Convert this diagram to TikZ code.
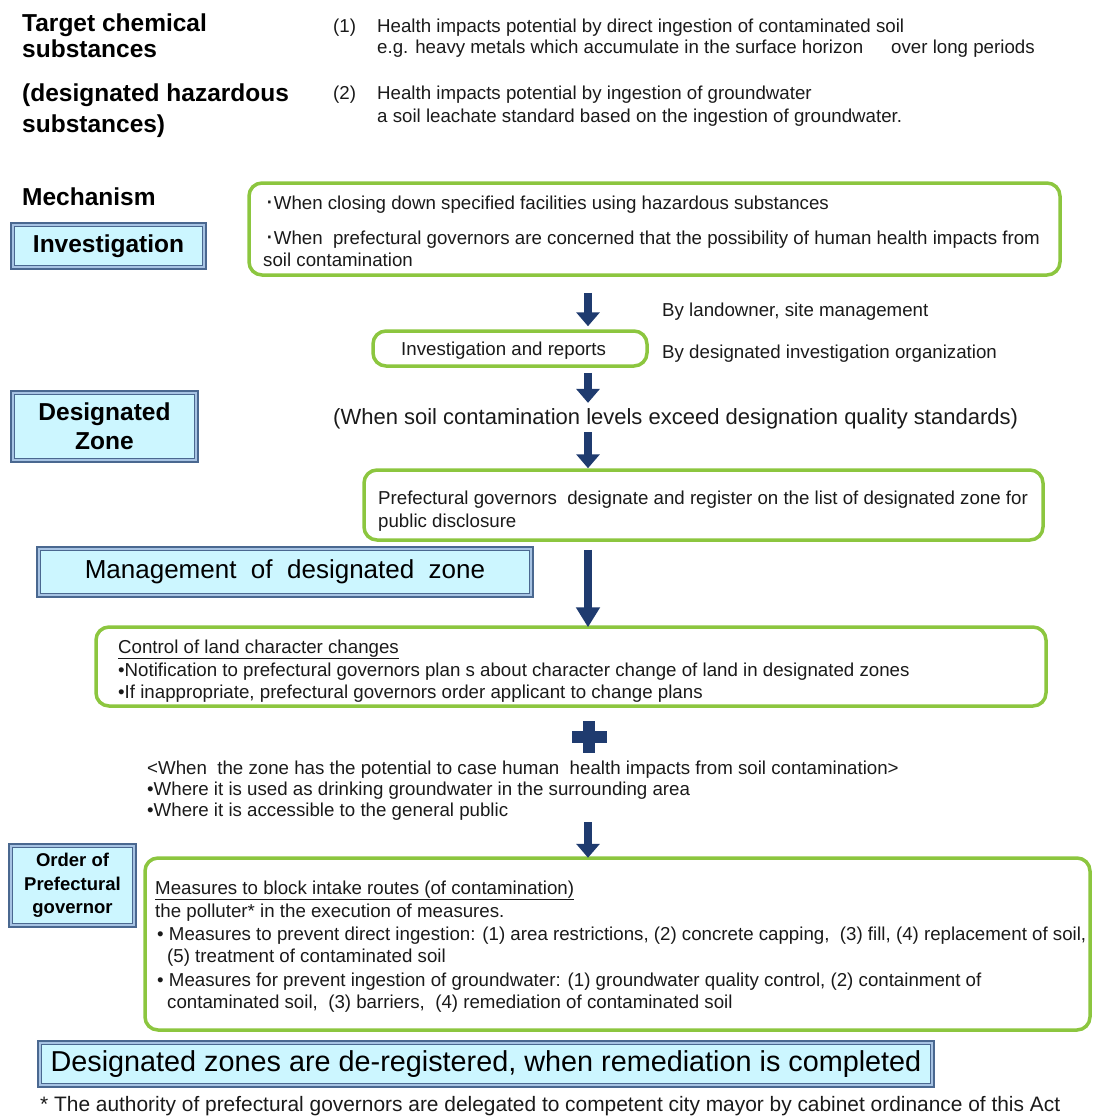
\documentclass[tikz,border=0pt]{standalone}
\usepackage{fontspec}
\setmainfont{Liberation Sans}
\usetikzlibrary{arrows.meta,calc}

\definecolor{arrowblue}{HTML}{1F3B6F}
\definecolor{boxgreen}{HTML}{8CC63F}
\definecolor{boxfill}{HTML}{CCF6FF}
\definecolor{boxedge}{HTML}{4A6890}
\definecolor{boxmid}{HTML}{A7C3E3}
\definecolor{ink}{HTML}{1A1A1A}

\newcommand\fbody{\fontsize{18.7pt}{22pt}\selectfont}
\newcommand\fhead{\fontsize{24.5pt}{29pt}\selectfont\bfseries}
\newcommand\bigdot{{\fontsize{26pt}{22pt}\selectfont ·}}

\tikzset{
  tx/.style={anchor=base west, inner sep=0pt, font=\fbody, text=ink},
  hd/.style={anchor=base west, inner sep=0pt, font=\fhead, text=black},
  gbox/.style={draw=boxgreen, line width=3.5pt, rounded corners=13pt, fill=white, inner sep=0pt},
  bbox/.style={draw=boxedge, line width=1.4pt, double=boxmid, double distance=2.4pt,
               fill=boxfill, inner sep=0pt, text=black, align=center},
  arr/.style={draw=arrowblue, line width=8pt, -{Triangle[width=23pt,length=14pt]}},
  longarr/.style={draw=arrowblue, line width=8pt, -{Triangle[width=23pt,length=20pt]}},
}

\begin{document}
\begin{tikzpicture}[x=1pt,y=-1pt]
\useasboundingbox (0,0) rectangle (1093,1117);

% ---- heading: target substances ----
\node[hd] (h1) at (22,31) {Target chemical};
\node[hd] (h2) at (22,57) {substances};
\node[hd] (h3) at (22,101) {(designated hazardous};
\node[hd] (h4) at (22,132) {substances)};

\node[tx] (n1) at (333,32) {(1)};
\node[tx] (l1a) at (377,32) {Health impacts potential by direct ingestion of contaminated soil};
\node[tx] (l1b) at (377,53) {e.g. heavy metals which accumulate in the surface horizon\hspace*{28pt}over long periods};
\node[tx] (n2) at (333,99) {(2)};
\node[tx] (l2a) at (377,99) {Health impacts potential by ingestion of groundwater};
\node[tx] (l2b) at (377,122) {a soil leachate standard based on the ingestion of groundwater.};

\node[hd] (mech) at (22,205) {Mechanism};

% ---- investigation ----
\node[bbox, minimum width=191.5pt, minimum height=42.5pt, font=\fhead] (inv) at (108.5,246) {Investigation};

\node[gbox, minimum width=811pt, minimum height=92pt] (g1) at (654.5,229) {};
\node[tx] (g1a) at (265,209) {\bigdot When closing down specified facilities using hazardous substances};
\node[tx] (g1b) at (265,244) {\bigdot When~ prefectural governors are concerned that the possibility of human health impacts from};
\node[tx] (g1c) at (263,266) {soil contamination};

\node[gbox, minimum width=274pt, minimum height=35pt] (g2) at (510,348.5) {};
\node[tx] (g2a) at (401,355) {Investigation and reports};

\node[tx] (by1) at (662,316) {By landowner, site management};
\node[tx] (by2) at (662,358) {By designated investigation organization};

% ---- designated zone ----
\node[bbox, minimum width=183.5pt, minimum height=67.5pt, font=\fhead] (dz) at (104.5,426.5) {Designated\\Zone};

\node[anchor=base west, inner sep=0pt, font=\fontsize{22pt}{26pt}\selectfont, text=ink] (cond) at (333,424)
  {(When soil contamination levels exceed designation quality standards)};

\node[gbox, minimum width=679pt, minimum height=70pt] (g3) at (703.5,505) {};
\node[tx] (g3a) at (378,504) {Prefectural governors~ designate and register on the list of designated zone for};
\node[tx] (g3b) at (378,527) {public disclosure};

% ---- management ----
\node[bbox, minimum width=492.5pt, minimum height=46.5pt, font=\fontsize{26pt}{30pt}\selectfont] (mg) at (285,572)
  {Management~ of~ designated~ zone};

\node[gbox, minimum width=950pt, minimum height=79pt] (g4) at (571,666.5) {};
\node[tx] (g4a) at (118,653) {\underline{Control of land character changes}};
\node[tx] (g4b) at (118,676) {•Notification to prefectural governors plan s about character change of land in designated zones};
\node[tx] (g4c) at (118,698) {•If inappropriate, prefectural governors order applicant to change plans};

% plus sign
\node[fill=arrowblue, minimum width=35pt, minimum height=12pt, inner sep=0pt] (plush) at (589,737) {};
\node[fill=arrowblue, minimum width=12pt, minimum height=32pt, inner sep=0pt] (plusv) at (plush.center) {};

\node[tx] (w1) at (147,774) {<When~ the zone has the potential to case human~ health impacts from soil contamination>};
\node[tx] (w2) at (147,795) {•Where it is used as drinking groundwater in the surrounding area};
\node[tx] (w3) at (147,816) {•Where it is accessible to the general public};

% ---- order of prefectural governor ----
\node[bbox, minimum width=123.5pt, minimum height=79.5pt, font=\fontsize{18.5pt}{23.5pt}\selectfont\bfseries] (og) at (72.5,885.5)
  {Order of\\Prefectural\\governor};

\node[gbox, minimum width=945pt, minimum height=172pt] (g5) at (617.5,944) {};
\node[tx] (g5a) at (155,894) {\underline{Measures to block intake routes (of contamination)}};
\node[tx] (g5b) at (155,917) {the polluter* in the execution of measures.};
\node[tx] (g5c) at (157,940) {• Measures to prevent direct ingestion: (1) area restrictions, (2) concrete capping,~ (3) fill, (4) replacement of soil,};
\node[tx] (g5d) at (167,962) {(5) treatment of contaminated soil};
\node[tx] (g5e) at (157,986) {• Measures for prevent ingestion of groundwater: (1) groundwater quality control, (2) containment of};
\node[tx] (g5f) at (167,1008) {contaminated soil,~ (3) barriers,~ (4) remediation of contaminated soil};

% ---- final step ----
\node[bbox, minimum width=892.5pt, minimum height=42.5pt, font=\fontsize{28.8pt}{32pt}\selectfont] (fin) at (486,1064)
  {Designated zones are de-registered, when remediation is completed};

\node[anchor=base west, inner sep=0pt, font=\fontsize{20.9pt}{24pt}\selectfont, text=ink] (foot) at (40,1111)
  {* The authority of prefectural governors are delegated to competent city mayor by cabinet ordinance of this Act};

% ---- flow arrows ----
\coordinate (ax) at (588,0);
\draw[arr] ($(g1.south -| ax)+(0,16)$) -- ($(g2.north -| ax)+(0,-3)$);
\draw[arr] ($(g2.south -| ax)+(0,5)$) -- ($(cond.north -| ax)+(0,-5)$);
\draw[arr] ($(cond.south -| ax)+(0,3.5)$) -- (g3.north -| ax);
\draw[longarr] ($(g3.south -| ax)+(0,8)$) -- ($(g4.north -| ax)+(0,2)$);
\draw[arr] ($(w3.south -| ax)+(0,2)$) -- ($(g5.north -| ax)+(0,1.5)$);

\end{tikzpicture}
\end{document}
